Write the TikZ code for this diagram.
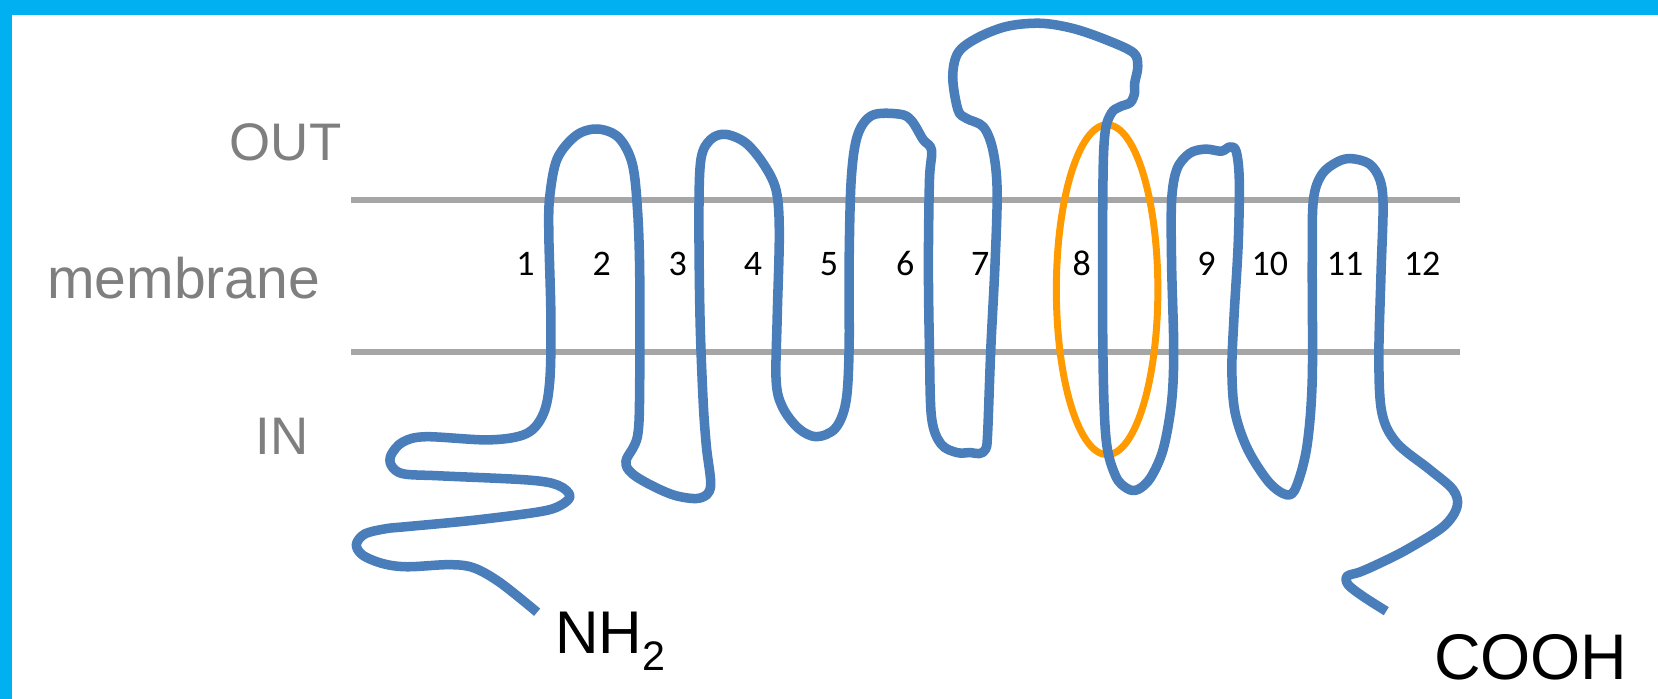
\documentclass[tikz,border=0pt]{standalone}
\usepackage{fontspec}
\setmainfont{Liberation Sans}
\newfontfamily\digitfont{Carlito}
\definecolor{frameblue}{HTML}{00B0F0}
\definecolor{chainblue}{HTML}{4A7EBB}
\definecolor{loopamber}{HTML}{FF9A00}
\definecolor{layergray}{HTML}{A6A6A6}
\definecolor{labelgray}{HTML}{7F7F7F}
\tikzset{
  sidelabel/.style={text=labelgray, inner sep=0pt, font=\fontsize{50}{60}\selectfont},
  helixnum/.style={text=black, inner sep=0pt, anchor=base, font=\digitfont\fontsize{34}{40}\selectfont},
  endlabel/.style={text=black, inner sep=0pt, anchor=base west},
  layer/.style={draw=layergray, line width=6.3pt},
  chain/.style={draw=chainblue, line width=9pt, line join=round},
  ring/.style={draw=loopamber, line width=6.6pt}
}
\begin{document}
\begin{tikzpicture}[x=1pt,y=-1pt]
\useasboundingbox (0,0) rectangle (1568,661);
% frame edges
\fill[frameblue] (0,0) rectangle (1568,14);
\fill[frameblue] (0,0) rectangle (11,661);

% membrane boundaries
\coordinate (upL) at (332,189);
\coordinate (upR) at (1381,189);
\coordinate (loL) at (332,333);
\coordinate (loR) at (1381,333);
\draw[layer] (upL) -- (upR);
\draw[layer] (loL) -- (loR);

% side labels
\node[sidelabel, anchor=base east] (out) at (323,152) {OUT};
\node[sidelabel, anchor=base east, font=\fontsize{54}{64}\selectfont] (mem) at (303,282) {membrane};
\node[sidelabel, anchor=base east] (in) at (292,430) {IN};

% helix numbers
\foreach \n/\x in {1/497,2/569,3/641,4/712,5/784,6/856,7/927,8/1023,9/1141,10/1201,11/1272,12/1345}
  \node[helixnum] (h\n) at (\x,261) {\n};

% ring around helix 8
\draw[ring] (1047,274) ellipse [x radius=48, y radius=156];

% polypeptide chain
\draw[chain] plot[smooth, tension=0.55] coordinates {
(508,579) (473,551) (448,537) (425,534) (385,536) (362,533) (343,525) (337,515) (345,505) (365,500)
(385,498) (448,492) (510,484) (530,478) (539,469) (528,459) (500,454)
(416,450) (381,448) (370,440) (370,430) (381,418) (403,413) (463,416) (498,410)
(514,391) (520,359) (521,300) (519,220) (520,185) (527,150) (545,128) (565,122)
(585,130) (598,155) (603,200) (605,260) (605,359) (603,412) (592,436) (598,448)
(618,460) (640,469) (662,471) (672,460) (668,422) (665,380) (662,300) (661,200)
(663,150) (672,132) (686,127) (705,135) (722,155) (734,180) (737,220) (735,300)
(734,360) (740,385) (755,405) (772,413) (790,405) (800,380) (803,330) (803,250)
(805,170) (811,128) (825,109) (851,108) (862,114) (873,132) (881,142)
(879,170) (878,250) (879,330) (881,395) (890,420) (905,428) (918,428) (926,429)
(932,425) (934,410) (937,330) (941,250) (943,180) (939,142) (930,120) (914,112)
(906,104) (901,73) (906,50) (924,36) (952,25) (984,22) (1015,27) (1047,38)
(1072,50) (1076,63) (1073,79) (1073,88) (1069,97) (1059,101) (1051,107) (1045,126)
(1043,180) (1043,330) (1046,415) (1055,450) (1066,462) (1076,463) (1088,452) (1100,425)
(1108,380) (1110,330) (1108,250) (1108,190) (1113,160) (1125,145) (1140,141) (1155,143)
(1163,139) (1169,143) (1172,170) (1171,230) (1167,300) (1165,350) (1168,390) (1180,425)
(1200,456) (1217,468) (1226,460) (1236,422) (1241,359) (1241,250) (1242,190) (1250,165)
(1265,153) (1278,150) (1295,155) (1305,170) (1308,195) (1306,260) (1304,340)
(1307,391) (1321,419) (1352,444) (1374,463) (1378,479) (1365,498) (1330,520) (1302,534)
(1286,541) (1274,545) (1275,553) (1289,564) (1311,578)
};

% chain ends
\node[endlabel, font=\fontsize{57}{68}\selectfont] (nterm) at (525,618) {NH\raisebox{-16pt}{\fontsize{39}{40}\selectfont 2}};
\node[endlabel, font=\fontsize{61}{72}\selectfont] (cterm) at (1356,643) {COOH};
\end{tikzpicture}
\end{document}
